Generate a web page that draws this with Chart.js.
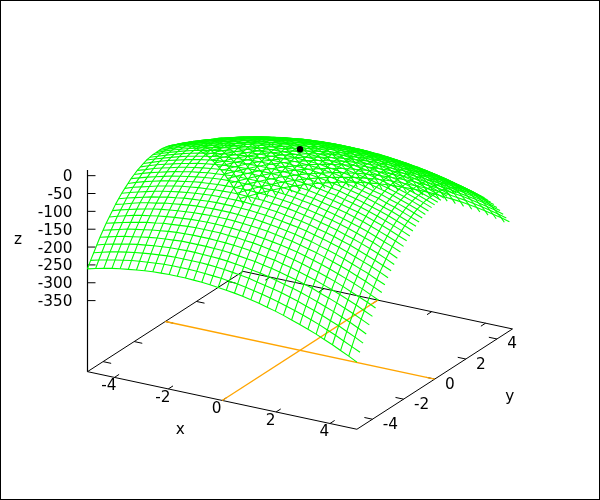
<!DOCTYPE html>
<html><head><meta charset="utf-8">
<style>html,body{margin:0;padding:0;background:#fff}canvas{display:block;outline:1px solid #000;outline-offset:-1px}</style>
<script src="https://cdn.jsdelivr.net/npm/chart.js@4"></script>
</head><body><canvas id="c" width="600" height="500"></canvas>
<script>
const xTicks=[-4,-2,0,2,4];
const yTicks=[-4,-2,0,2,4];
const zTicks=[0,-50,-100,-150,-200,-250,-300,-350];
const xRange=[-5,5];
const yRange=[-5,5];
const zRange=[-549,16];
const peakPoint=[0,0,14];
const gridX=[-5,-4.697,-4.394,-4.091,-3.788,-3.485,-3.182,-2.879,-2.576,-2.273,-1.970,-1.667,-1.364,-1.061,-0.758,-0.455,-0.152,0.152,0.455,0.758,1.061,1.364,1.667,1.970,2.273,2.576,2.879,3.182,3.485,3.788,4.091,4.394,4.697,5];
const gridY=[-5,-4.8,-4.6,-4.4,-4.2,-4,-3.8,-3.6,-3.4,-3.2,-3,-2.8,-2.6,-2.4,-2.2,-2,-1.8,-1.6,-1.4,-1.2,-1,-0.8,-0.6,-0.4,-0.2,0,0.2,0.4,0.6,0.8,1,1.2,1.4,1.6,1.8,2,2.2,2.4,2.6,2.8,3,3.2,3.4,3.6,3.8,4,4.2,4.4,4.6,4.8,5];
const zRows=[
[-261,-255,-250,-245,-241,-238,-235,-232,-230,-229,-228,-228,-228,-229,-230,-232,-235,-238,-241,-245,-250,-255,-261,-267,-274,-282,-290,-298,-307,-317,-327,-338,-349,-361],
[-243,-237,-232,-227,-223,-219,-216,-214,-212,-210,-209,-209,-209,-210,-211,-213,-215,-218,-221,-225,-230,-235,-241,-247,-254,-261,-269,-277,-286,-296,-306,-317,-328,-339],
[-227,-221,-215,-210,-206,-202,-199,-196,-194,-192,-191,-191,-191,-191,-192,-194,-196,-199,-202,-206,-211,-216,-221,-227,-234,-241,-249,-257,-266,-276,-285,-296,-307,-319],
[-211,-204,-199,-194,-189,-185,-182,-179,-177,-175,-174,-173,-173,-174,-175,-176,-178,-181,-184,-188,-192,-197,-203,-209,-215,-222,-230,-238,-247,-256,-266,-276,-287,-299],
[-195,-189,-183,-178,-174,-170,-166,-163,-161,-159,-157,-157,-157,-157,-158,-159,-161,-164,-167,-170,-175,-179,-185,-191,-197,-204,-211,-220,-228,-237,-247,-257,-268,-279],
[-181,-175,-169,-163,-159,-155,-151,-148,-145,-143,-142,-141,-141,-141,-142,-143,-145,-147,-150,-154,-158,-162,-168,-173,-180,-187,-194,-202,-210,-219,-229,-239,-250,-261],
[-167,-161,-155,-150,-145,-140,-137,-133,-131,-129,-127,-126,-126,-126,-126,-128,-129,-132,-134,-138,-142,-146,-151,-157,-163,-170,-177,-185,-193,-202,-212,-222,-232,-243],
[-155,-148,-142,-136,-131,-127,-123,-120,-117,-115,-113,-112,-111,-111,-112,-113,-115,-117,-120,-123,-127,-131,-136,-141,-147,-154,-161,-169,-177,-186,-195,-205,-216,-227],
[-143,-136,-130,-124,-119,-114,-110,-107,-104,-102,-100,-99,-98,-98,-98,-99,-101,-103,-105,-108,-112,-116,-121,-127,-133,-139,-146,-154,-162,-170,-180,-189,-200,-211],
[-131,-125,-118,-112,-107,-103,-98,-95,-92,-89,-87,-86,-85,-85,-85,-86,-88,-89,-92,-95,-99,-103,-107,-113,-118,-125,-132,-139,-147,-156,-165,-174,-185,-195],
[-121,-114,-108,-102,-96,-92,-87,-84,-80,-78,-76,-74,-73,-73,-73,-74,-75,-77,-79,-82,-86,-90,-94,-99,-105,-111,-118,-125,-133,-142,-151,-160,-170,-181],
[-111,-104,-98,-92,-86,-81,-77,-73,-70,-67,-65,-63,-62,-62,-62,-62,-64,-65,-68,-70,-74,-78,-82,-87,-93,-99,-105,-113,-120,-129,-138,-147,-157,-167],
[-103,-95,-89,-83,-77,-72,-67,-63,-60,-57,-55,-53,-52,-51,-51,-52,-53,-54,-57,-59,-62,-66,-71,-75,-81,-87,-93,-101,-108,-116,-125,-134,-144,-155],
[-95,-87,-80,-74,-68,-63,-59,-55,-51,-48,-46,-44,-43,-42,-42,-42,-43,-44,-46,-49,-52,-56,-60,-65,-70,-76,-82,-89,-97,-105,-113,-123,-132,-143],
[-87,-80,-73,-67,-61,-55,-51,-47,-43,-40,-37,-35,-34,-33,-33,-33,-34,-35,-37,-39,-42,-46,-50,-55,-60,-66,-72,-79,-86,-94,-103,-112,-121,-131],
[-81,-73,-66,-60,-54,-48,-44,-39,-36,-32,-30,-28,-26,-25,-25,-25,-25,-27,-28,-31,-34,-37,-41,-46,-51,-56,-62,-69,-76,-84,-93,-102,-111,-121],
[-75,-68,-60,-54,-48,-42,-37,-33,-29,-26,-23,-21,-19,-18,-17,-17,-18,-19,-21,-23,-26,-29,-33,-37,-42,-48,-54,-60,-67,-75,-83,-92,-102,-111],
[-71,-63,-55,-49,-43,-37,-32,-27,-23,-20,-17,-15,-13,-12,-11,-11,-11,-12,-14,-16,-18,-22,-25,-30,-34,-40,-46,-52,-59,-67,-75,-84,-93,-103],
[-67,-59,-51,-44,-38,-32,-27,-22,-18,-15,-12,-9,-7,-6,-5,-5,-5,-6,-7,-9,-12,-15,-19,-23,-27,-33,-39,-45,-52,-59,-67,-76,-85,-95],
[-63,-55,-48,-41,-34,-28,-23,-18,-14,-10,-7,-5,-3,-1,0,0,0,-1,-2,-4,-6,-9,-13,-17,-21,-26,-32,-38,-45,-53,-60,-69,-78,-87],
[-61,-53,-45,-38,-31,-25,-20,-15,-11,-7,-4,-1,1,3,4,4,4,4,2,1,-1,-4,-8,-12,-16,-21,-27,-33,-39,-47,-54,-63,-72,-81],
[-59,-51,-43,-36,-29,-23,-18,-13,-8,-4,-1,2,4,6,7,8,8,7,6,5,3,0,-3,-7,-12,-16,-22,-28,-34,-42,-49,-57,-66,-75],
[-59,-50,-42,-35,-28,-22,-16,-11,-6,-2,1,4,6,8,10,10,11,10,9,8,6,3,0,-4,-8,-13,-18,-24,-30,-37,-45,-53,-61,-71],
[-59,-50,-42,-35,-28,-21,-15,-10,-5,-1,2,5,8,10,11,12,12,12,11,10,8,6,3,-1,-5,-10,-15,-21,-27,-34,-41,-49,-58,-67],
[-59,-51,-43,-35,-28,-21,-15,-10,-5,-1,3,6,9,11,12,13,14,13,13,12,10,7,5,1,-3,-7,-12,-18,-24,-31,-38,-46,-54,-63],
[-61,-52,-44,-36,-29,-22,-16,-11,-6,-2,2,6,8,11,12,13,14,14,13,12,11,8,6,2,-2,-6,-11,-16,-22,-29,-36,-44,-52,-61],
[-63,-54,-46,-38,-31,-24,-18,-12,-7,-3,1,5,7,10,12,13,14,13,13,12,11,9,6,3,-1,-5,-10,-15,-21,-28,-35,-43,-51,-59],
[-67,-58,-49,-41,-34,-27,-21,-15,-10,-5,-1,3,6,8,10,11,12,12,12,11,10,8,5,2,-1,-5,-10,-15,-21,-28,-35,-42,-50,-59],
[-71,-61,-53,-45,-37,-30,-24,-18,-13,-8,-4,0,3,6,8,9,10,11,10,10,8,6,4,1,-2,-6,-11,-16,-22,-28,-35,-42,-50,-59],
[-75,-66,-57,-49,-42,-34,-28,-22,-16,-12,-7,-3,0,3,5,6,7,8,8,7,6,4,2,-1,-4,-8,-13,-18,-23,-29,-36,-43,-51,-59],
[-81,-72,-63,-54,-47,-39,-33,-27,-21,-16,-12,-8,-4,-1,1,2,4,4,4,4,3,1,-1,-4,-7,-11,-15,-20,-25,-31,-38,-45,-53,-61],
[-87,-78,-69,-60,-53,-45,-38,-32,-26,-21,-17,-13,-9,-6,-4,-2,-1,0,0,0,-1,-3,-5,-7,-10,-14,-18,-23,-28,-34,-41,-48,-55,-63],
[-95,-85,-76,-67,-59,-52,-45,-39,-33,-27,-23,-19,-15,-12,-9,-7,-6,-5,-5,-5,-6,-7,-9,-12,-15,-18,-22,-27,-32,-38,-44,-51,-59,-67],
[-103,-93,-84,-75,-67,-59,-52,-46,-40,-34,-30,-25,-22,-18,-16,-14,-12,-11,-11,-11,-12,-13,-15,-17,-20,-23,-27,-32,-37,-43,-49,-55,-63,-71],
[-111,-102,-92,-83,-75,-67,-60,-54,-48,-42,-37,-33,-29,-26,-23,-21,-19,-18,-17,-17,-18,-19,-21,-23,-26,-29,-33,-37,-42,-48,-54,-60,-68,-75],
[-121,-111,-102,-93,-84,-76,-69,-62,-56,-51,-46,-41,-37,-34,-31,-28,-27,-25,-25,-25,-25,-26,-28,-30,-32,-36,-39,-44,-48,-54,-60,-66,-73,-81],
[-131,-121,-112,-103,-94,-86,-79,-72,-66,-60,-55,-50,-46,-42,-39,-37,-35,-34,-33,-33,-33,-34,-35,-37,-40,-43,-47,-51,-55,-61,-67,-73,-80,-87],
[-143,-132,-123,-113,-105,-97,-89,-82,-76,-70,-65,-60,-56,-52,-49,-46,-44,-43,-42,-42,-42,-43,-44,-46,-48,-51,-55,-59,-63,-68,-74,-80,-87,-95],
[-155,-144,-134,-125,-116,-108,-101,-93,-87,-81,-75,-71,-66,-62,-59,-57,-54,-53,-52,-51,-51,-52,-53,-55,-57,-60,-63,-67,-72,-77,-83,-89,-95,-103],
[-167,-157,-147,-138,-129,-120,-113,-105,-99,-93,-87,-82,-78,-74,-70,-68,-65,-64,-62,-62,-62,-62,-63,-65,-67,-70,-73,-77,-81,-86,-92,-98,-104,-111],
[-181,-170,-160,-151,-142,-133,-125,-118,-111,-105,-99,-94,-90,-86,-82,-79,-77,-75,-74,-73,-73,-73,-74,-76,-78,-80,-84,-87,-92,-96,-102,-108,-114,-121],
[-195,-185,-174,-165,-156,-147,-139,-132,-125,-118,-113,-107,-103,-99,-95,-92,-89,-88,-86,-85,-85,-85,-86,-87,-89,-92,-95,-98,-103,-107,-112,-118,-125,-131],
[-211,-200,-189,-180,-170,-162,-154,-146,-139,-133,-127,-121,-116,-112,-108,-105,-103,-101,-99,-98,-98,-98,-99,-100,-102,-104,-107,-110,-114,-119,-124,-130,-136,-143],
[-227,-216,-205,-195,-186,-177,-169,-161,-154,-147,-141,-136,-131,-127,-123,-120,-117,-115,-113,-112,-111,-111,-112,-113,-115,-117,-120,-123,-127,-131,-136,-142,-148,-155],
[-243,-232,-222,-212,-202,-193,-185,-177,-170,-163,-157,-151,-146,-142,-138,-134,-132,-129,-128,-126,-126,-126,-126,-127,-129,-131,-133,-137,-140,-145,-150,-155,-161,-167],
[-261,-250,-239,-229,-219,-210,-202,-194,-187,-180,-173,-168,-162,-158,-154,-150,-147,-145,-143,-142,-141,-141,-141,-142,-143,-145,-148,-151,-155,-159,-163,-169,-175,-181],
[-279,-268,-257,-247,-237,-228,-220,-211,-204,-197,-191,-185,-179,-175,-170,-167,-164,-161,-159,-158,-157,-157,-157,-157,-159,-161,-163,-166,-170,-174,-178,-183,-189,-195],
[-299,-287,-276,-266,-256,-247,-238,-230,-222,-215,-209,-203,-197,-192,-188,-184,-181,-178,-176,-175,-174,-173,-173,-174,-175,-177,-179,-182,-185,-189,-194,-199,-204,-211],
[-319,-307,-296,-285,-276,-266,-257,-249,-241,-234,-227,-221,-216,-211,-206,-202,-199,-196,-194,-192,-191,-191,-191,-191,-192,-194,-196,-199,-202,-206,-210,-215,-221,-227],
[-339,-328,-317,-306,-296,-286,-277,-269,-261,-254,-247,-241,-235,-230,-225,-221,-218,-215,-213,-211,-210,-209,-209,-209,-210,-212,-214,-216,-219,-223,-227,-232,-237,-243],
[-361,-349,-338,-327,-317,-307,-298,-290,-282,-274,-267,-261,-255,-250,-245,-241,-238,-235,-232,-230,-229,-228,-228,-228,-229,-230,-232,-235,-238,-241,-245,-250,-255,-261]
];

/* fixed gnuplot-style view: 3D data to the 2D plane of the chart's scales */
function proj(x,y,z){
  return {x:300+26.94*x+15.56*y, y:350.3+5.76*x-10.03*y-(z-zRange[0])*0.357};
}
const zb=zRange[0], [x0,x1]=xRange, [y0,y1]=yRange;
const line=(data,color,order,w)=>({data,borderColor:color,borderWidth:w||1,showLine:true,pointRadius:0,tension:0,fill:false,order,borderCapStyle:'butt',borderJoinStyle:'bevel'});
const ds=[];
// base frame and z axis
ds.push(line([proj(x0,y0,zb),proj(x1,y0,zb),proj(x1,y1,zb),proj(x0,y1,zb),proj(x0,y0,zb)],'#000',30));
ds.push(line([proj(x0,y0,zRange[1]),proj(x0,y0,zb)],'#000',30,1.2));
// ticks (3% of the opposite range, on both edges)
xTicks.forEach(t=>{
  ds.push(line([proj(t,y0,zb),proj(t,y0+0.3,zb)],'#000',30));
  ds.push(line([proj(t,y1,zb),proj(t,y1-0.3,zb)],'#000',30));
});
yTicks.forEach(t=>{
  ds.push(line([proj(x1,t,zb),proj(x1-0.3,t,zb)],'#000',30));
  ds.push(line([proj(x0,t,zb),proj(x0+0.3,t,zb)],'#000',30));
});
zTicks.forEach(t=>{
  const p=proj(x0,y0,t);
  ds.push(line([p,{x:p.x+8,y:p.y}],'#000',30));
});
// zero lines on the base
ds.push(line([proj(x0,0,zb),proj(x1,0,zb)],'#ffa500',20,1.3));
ds.push(line([proj(0,y0,zb),proj(0,y1,zb)],'#ffa500',20,1.3));
// surface mesh: rows stop before y=5, columns stop before x=5
for(let j=0;j<gridY.length-1;j++){
  ds.push(line(gridX.map((x,i)=>proj(x,gridY[j],zRows[j][i])),'#00ff00',10,1.1));
}
for(let i=0;i<gridX.length-1;i++){
  ds.push(line(gridY.map((y,j)=>proj(gridX[i],y,zRows[j][i])),'#00ff00',10,1.1));
}
// peak marker
ds.push({data:[proj(peakPoint[0],peakPoint[1],peakPoint[2])],showLine:false,pointRadius:3.2,pointBackgroundColor:'#000',pointBorderWidth:0,order:1});

const textPlugin={id:'axisText',afterDatasetsDraw(chart){
  const c=chart.ctx;
  c.save();
  c.fillStyle='#000';
  c.font='15.3px "DejaVu Sans"';
  c.textBaseline='middle';
  c.textAlign='right';
  zTicks.forEach(t=>c.fillText(String(t),72.5,proj(x0,y0,t).y+1.5));
  c.textAlign='center';
  xTicks.forEach(t=>{const p=proj(t,y0,zb);c.fillText(String(t),p.x-5.5,p.y+9);});
  c.textAlign='left';
  yTicks.forEach(t=>{const p=proj(x1,t,zb);c.fillText(String(t),p.x+10.3,p.y+5.5);});
  c.textAlign='center';
  const q=proj(0,y0,zb);
  c.fillText('x',q.x-42,q.y+30);
  const r=proj(x1,0,zb);
  c.fillText('y',r.x+75,r.y+18);
  c.fillText('z',18,240);
  c.restore();
}};

new Chart(document.getElementById('c'),{
  type:'scatter',
  data:{datasets:ds},
  plugins:[textPlugin],
  options:{
    responsive:false,animation:false,devicePixelRatio:1,
    layout:{padding:0,autoPadding:false},
    plugins:{legend:{display:false},tooltip:{enabled:false},title:{display:false}},
    scales:{
      x:{type:'linear',min:0,max:600,display:false},
      y:{type:'linear',min:0,max:500,reverse:true,display:false}
    }
  }
});
</script></body></html>
